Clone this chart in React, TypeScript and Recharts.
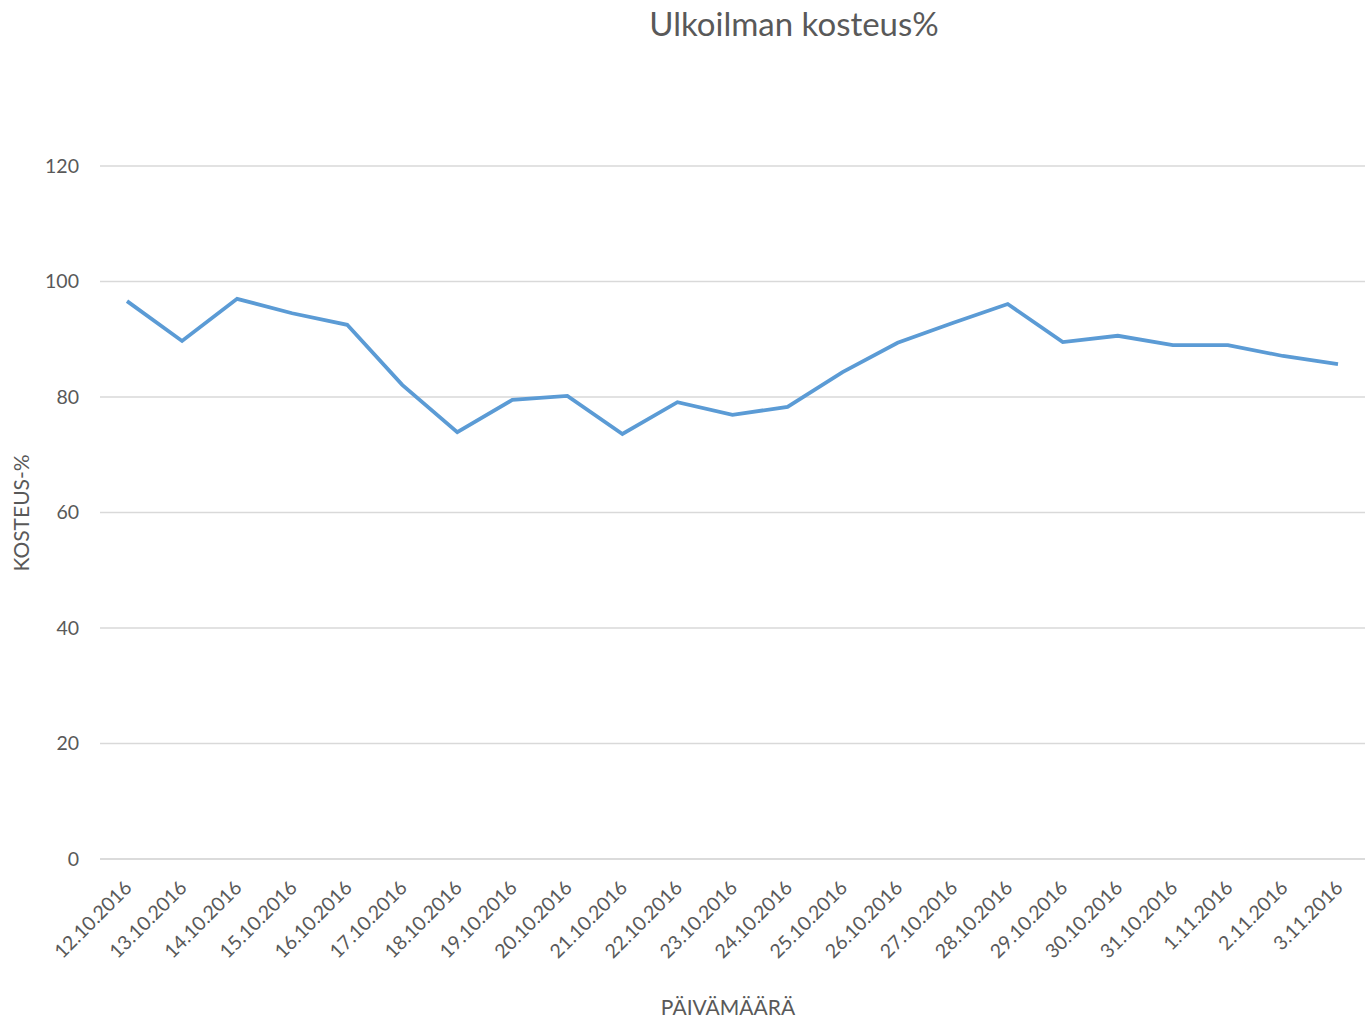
import React from 'react';
import { LineChart, Line, XAxis, YAxis, CartesianGrid } from 'recharts';

const dates = [
  '12.10.2016', '13.10.2016', '14.10.2016', '15.10.2016', '16.10.2016', '17.10.2016',
  '18.10.2016', '19.10.2016', '20.10.2016', '21.10.2016', '22.10.2016', '23.10.2016',
  '24.10.2016', '25.10.2016', '26.10.2016', '27.10.2016', '28.10.2016', '29.10.2016',
  '30.10.2016', '31.10.2016', '1.11.2016', '2.11.2016', '3.11.2016',
];
const humidity = [
  96.6, 89.7, 97.0, 94.5, 92.5, 82.1, 73.9, 79.5, 80.2, 73.6, 79.1, 76.9,
  78.3, 84.3, 89.4, 92.8, 96.1, 89.5, 90.6, 89.0, 89.0, 87.1, 85.7,
];
const yTicks = [0, 20, 40, 60, 80, 100, 120];

const data = dates.map((d, i) => ({ date: d, value: humidity[i] }));

const FONT = 'Lato, "Open Sans", sans-serif';
const GREY = '#595959';

const XTick = (props: any) => {
  const { x, y, payload } = props;
  return (
    <g transform={`translate(${x + 6},${y + 22})`}>
      <text x={0} y={0} textAnchor="end" transform="rotate(-45)" fontSize={19.5} fill={GREY} fontFamily={FONT}>
        {payload.value}
      </text>
    </g>
  );
};

export default function App() {
  return (
    <div style={{ position: 'absolute', left: 0, top: 0, width: 1370, height: 1023, background: '#fff' }}>
      <LineChart
        width={1370}
        height={1023}
        data={data}
        margin={{ top: 166, right: 5, left: 0, bottom: 0 }}
      >
        <CartesianGrid horizontal vertical={false} stroke="#d9d9d9" strokeWidth={1.3} />
        <XAxis
          dataKey="date"
          padding={{ left: 27, right: 27 }}
          height={164}
          tickLine={false}
          axisLine={{ stroke: '#d9d9d9', strokeWidth: 1.3 }}
          interval={0}
          tick={<XTick />}
        />
        <YAxis
          width={100}
          domain={[0, 120]}
          ticks={yTicks}
          axisLine={false}
          tickLine={false}
          tickSize={0}
          tickMargin={21}
          tick={{ fontSize: 19.5, fill: GREY, fontFamily: FONT }}
        />
        <Line
          type="linear"
          dataKey="value"
          stroke="#5b9bd5"
          strokeWidth={3.8}
          dot={false}
          isAnimationActive={false}
        />
        <text x={794} y={36} textAnchor="middle" fontSize={33} fill={GREY} fontFamily={FONT}>
          Ulkoilman kosteus%
        </text>
        <text x={728} y={1015} textAnchor="middle" fontSize={21} fill={GREY} fontFamily={FONT}>
          PÄIVÄMÄÄRÄ
        </text>
        <text
          x={0}
          y={0}
          transform="translate(29,513) rotate(-90)"
          textAnchor="middle"
          fontSize={21}
          fill={GREY}
          fontFamily={FONT}
        >
          KOSTEUS-%
        </text>
      </LineChart>
    </div>
  );
}
